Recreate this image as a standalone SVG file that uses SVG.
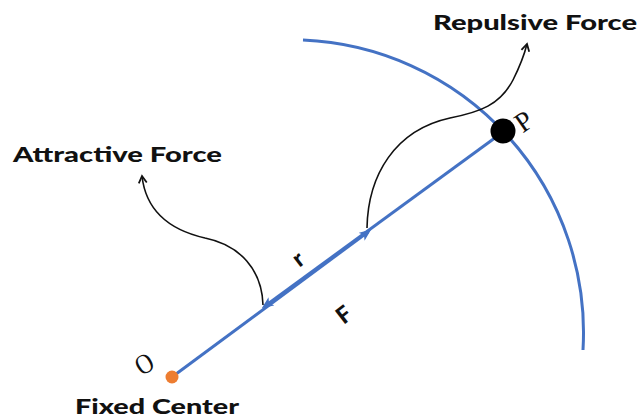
<svg xmlns="http://www.w3.org/2000/svg" width="643" height="419" viewBox="0 0 643 419">
<defs>
<style>
.lbl{font-family:Lato,"Liberation Sans",sans-serif;font-weight:900;font-size:20px;fill:#111}
.sym{font-family:Lato,"Liberation Sans",sans-serif;font-weight:900;font-size:23px;fill:#111}
.ser{font-family:"Liberation Serif",serif;font-size:28px;fill:#111}
.blue{stroke:#4472C4;stroke-width:3;fill:none}
.curve{stroke:#111;stroke-width:1.6;fill:none}
</style>
<marker id="tri" viewBox="0 0 12 10" refX="8" refY="5" markerWidth="12" markerHeight="10" markerUnits="userSpaceOnUse" orient="auto">
<path d="M0,0 L12,5 L0,10 L3,5 Z" fill="#4472C4"/>
</marker>
<marker id="chev" viewBox="0 0 10 10" refX="8" refY="5" markerWidth="10" markerHeight="10" markerUnits="userSpaceOnUse" orient="auto">
<path d="M1,1 L8,5 L1,9" fill="none" stroke="#111" stroke-width="1.8"/>
</marker>
</defs>
<rect width="643" height="419" fill="#fff"/>
<g id="orbit">
<path class="blue" d="M303,40 A293,293 0 0 1 583,350"/>
</g>
<g id="connectors">
<path class="blue" d="M172,377 L368,232" marker-end="url(#tri)"/>
<path class="blue" d="M503,132 L265,306" marker-end="url(#tri)"/>
<path class="curve" d="M263,305 C262,270 240,245 205,238 C170,230 146,212 142,176" marker-end="url(#chev)"/>
<path class="curve" d="M367,228 C368,175 395,130 450,118 C480,112 500,105 513,80 C519,68 524,56 527,44" marker-end="url(#chev)"/>
</g>
<g id="center">
<circle cx="172" cy="377" r="6.5" fill="#ED7D31"/>
<text class="ser" transform="translate(149,372) rotate(-30) scale(0.85,1)" text-anchor="middle">O</text>
</g>
<g id="particle">
<circle cx="503" cy="131" r="12.5" fill="#000"/>
<text class="ser" transform="translate(529,129) rotate(-35)" text-anchor="middle">P</text>
</g>
<g id="labels">
<text class="lbl" x="13" y="162" textLength="209" lengthAdjust="spacingAndGlyphs">Attractive Force</text>
<text class="lbl" x="433" y="30" textLength="204" lengthAdjust="spacingAndGlyphs">Repulsive Force</text>
<text class="lbl" x="75" y="414" font-size="21" textLength="164" lengthAdjust="spacingAndGlyphs">Fixed Center</text>
<text class="sym" transform="translate(303,265) rotate(-38)" text-anchor="middle">r</text>
<text class="sym" transform="translate(349,321) rotate(-38)" text-anchor="middle">F</text>
</g>
</svg>
